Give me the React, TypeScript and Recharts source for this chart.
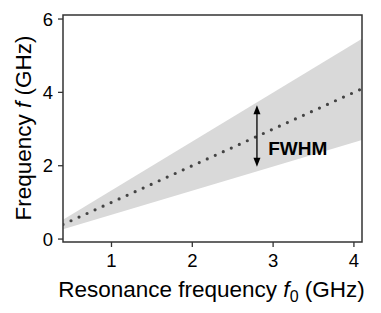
import {
  ComposedChart,
  Area,
  Line,
  XAxis,
  YAxis,
  ReferenceLine,
  ReferenceDot,
  ReferenceArea,
  Label,
} from 'recharts';

// resonance frequency f0 (GHz) and the curves
const f0 = [0.4, 4.1];
const center = [0.4, 4.1];
const lower = [0.27, 2.7];
const upper = [0.53, 5.46];

const xTicks = [1, 2, 3, 4];
const yTicks = [0, 2, 4, 6];

// FWHM arrow (x, bottom, top) and its label position
const arrowX = 2.8;
const arrowLow = 1.97;
const arrowHigh = 3.65;
const labelX = 2.94;
const labelY = 2.47;

const chartData = f0.map((x, i) => ({
  f0: x,
  band: [lower[i], upper[i]],
  center: center[i],
}));

const FONT = '"Liberation Sans", Arial, sans-serif';
const AXIS = '#333';

const YTitle = ({ viewBox }: any) => {
  const cx = 23;
  const cy = viewBox.y + viewBox.height / 2 - 0.5;
  return (
    <text
      x={cx}
      y={cy}
      transform={`rotate(-90, ${cx}, ${cy})`}
      textAnchor="middle"
      dominantBaseline="central"
      fontSize={22.5}
      fontFamily={FONT}
      fill="#000"
    >
      Frequency <tspan fontStyle="italic">f</tspan> (GHz)
    </text>
  );
};

const XTitle = ({ viewBox }: any) => {
  const cx = viewBox.x + viewBox.width / 2 - 1;
  const y = viewBox.y + 55;
  return (
    <text x={cx} y={y} textAnchor="middle" fontSize={22.5} fontFamily={FONT} fill="#000">
      Resonance frequency <tspan fontStyle="italic">f</tspan>
      <tspan fontSize={16} dy={5}>0</tspan>
      <tspan dy={-5}> (GHz)</tspan>
    </text>
  );
};

const headUp = (p: any) => (
  <path d={`M${p.cx},${p.cy} L${p.cx - 3.5},${p.cy + 9} L${p.cx + 3.5},${p.cy + 9} Z`} fill="#000" />
);
const headDown = (p: any) => (
  <path d={`M${p.cx},${p.cy} L${p.cx - 3.5},${p.cy - 9} L${p.cx + 3.5},${p.cy - 9} Z`} fill="#000" />
);
const fwhmText = (p: any) => (
  <text
    x={p.cx}
    y={p.cy}
    dominantBaseline="central"
    fontSize={19}
    fontWeight="bold"
    fontFamily={FONT}
    fill="#000"
  >
    FWHM
  </text>
);

export default function App() {
  return (
    <div style={{ position: 'absolute', left: 0, top: 0, background: '#fff' }}>
      <ComposedChart
        width={381}
        height={313}
        data={chartData}
        margin={{ top: 15, right: 19, left: 0, bottom: 0 }}
      >
        <XAxis
          dataKey="f0"
          type="number"
          domain={[0.4, 4.1]}
          ticks={xTicks}
          allowDataOverflow
          height={71}
          axisLine={false}
          tickLine={{ stroke: AXIS, strokeWidth: 1.3 }}
          tickSize={5}
          tickMargin={7}
          tick={{ fill: '#000', fontSize: 18.5, fontFamily: FONT }}
        >
          <Label content={XTitle} />
        </XAxis>
        <YAxis
          type="number"
          domain={[-0.08, 6.11]}
          ticks={yTicks}
          allowDataOverflow
          width={63}
          axisLine={false}
          tickLine={{ stroke: AXIS, strokeWidth: 1.3 }}
          tickSize={5}
          tickMargin={5}
          tick={{ fill: '#000', fontSize: 18.5, fontFamily: FONT }}
        >
          <Label content={YTitle} />
        </YAxis>
        <Area
          type="linear"
          dataKey="band"
          stroke="none"
          fill="#d9d9d9"
          fillOpacity={1}
          isAnimationActive={false}
          activeDot={false}
        />
        <Line
          type="linear"
          dataKey="center"
          stroke="#444"
          strokeWidth={3.2}
          strokeDasharray="0 8.8"
          strokeLinecap="round"
          dot={false}
          activeDot={false}
          isAnimationActive={false}
        />
        <ReferenceLine
          segment={[
            { x: arrowX, y: arrowLow + 0.15 },
            { x: arrowX, y: arrowHigh - 0.15 },
          ]}
          stroke="#000"
          strokeWidth={1.3}
        />
        <ReferenceDot x={arrowX} y={arrowHigh} shape={headUp} />
        <ReferenceDot x={arrowX} y={arrowLow} shape={headDown} />
        <ReferenceDot x={labelX} y={labelY} shape={fwhmText} />
        <ReferenceArea
          x1={0.4}
          x2={4.1}
          y1={-0.08}
          y2={6.11}
          fill="none"
          stroke={AXIS}
          strokeWidth={1.5}
          ifOverflow="visible"
        />
      </ComposedChart>
    </div>
  );
}
